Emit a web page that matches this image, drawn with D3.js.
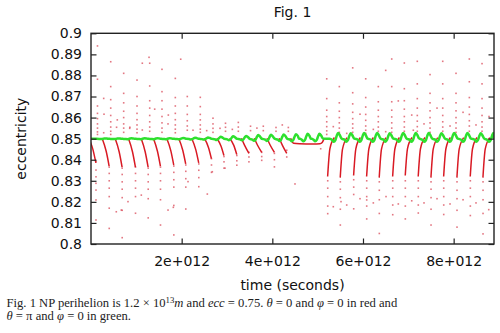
<!DOCTYPE html>
<html><head><meta charset="utf-8">
<script src="https://cdn.jsdelivr.net/npm/d3@7"></script>
<style>body{margin:0;background:#fff}svg{display:block}</style>
</head><body>
<svg id="c" width="500" height="333"></svg>
<script>
// ---------- data (time in units of 1e12 s) ----------
const xTicks = [2, 4, 6, 8];
const xTickLabels = ["2e+012", "4e+012", "6e+012", "8e+012"];
const yTicks = [0.8, 0.81, 0.82, 0.83, 0.84, 0.85, 0.86, 0.87, 0.88, 0.89, 0.9];
const yTickLabels = ["0.8", "0.81", "0.82", "0.83", "0.84", "0.85", "0.86", "0.87", "0.88", "0.89", "0.9"];

// red series (theta = 0, phi = 0): perihelion passages
const redCycleT = [0.143, 0.435, 0.721, 1.015, 1.295, 1.566, 1.860, 2.124, 2.411, 2.691, 2.967, 3.250,
  3.519, 3.801, 4.081, 4.353,
  5.200, 5.478, 5.773, 6.060, 6.338, 6.634, 6.912, 7.198, 7.479, 7.759, 8.052, 8.346, 8.626];
const redUpper = [
  [0.894, 0.8782, 0.8655, 0.862, 0.8595, 0.857, 0.855, 0.8532, 0.852],
  [0.8865, 0.8747, 0.8685, 0.8645, 0.861, 0.858, 0.8555, 0.8535, 0.852],
  [0.881, 0.8715, 0.867, 0.863, 0.86, 0.857, 0.855, 0.853],
  [0.8778, 0.870, 0.8655, 0.862, 0.859, 0.8565, 0.8545, 0.8528],
  [0.8858, 0.875, 0.868, 0.8645, 0.861, 0.858, 0.8555, 0.8535],
  [0.8829, 0.8723, 0.868, 0.864, 0.8605, 0.8575, 0.855, 0.853],
  [0.8786, 0.8695, 0.8655, 0.862, 0.859, 0.8565, 0.8545, 0.8528],
  [0.870, 0.8655, 0.8615, 0.8585, 0.856, 0.854],
  [0.8696, 0.8652, 0.8615, 0.8589, 0.8565, 0.8545, 0.853],
  [0.8597, 0.857, 0.8549, 0.853],
  [0.8573, 0.8554, 0.8535],
  [0.8577, 0.8555, 0.8535],
  [0.8559, 0.8538],
  [0.8559, 0.8538],
  [0.8553, 0.8535],
  [0.8553, 0.8535],
  [0.8784, 0.869, 0.8635, 0.8605, 0.858, 0.8557, 0.8537, 0.852],
  [0.8747, 0.867, 0.863, 0.86, 0.8575, 0.855, 0.853],
  [0.8836, 0.8718, 0.8665, 0.8625, 0.8595, 0.857, 0.855, 0.853],
  [0.8784, 0.8695, 0.865, 0.8615, 0.8587, 0.856, 0.854, 0.8525],
  [0.8747, 0.8675, 0.8635, 0.8605, 0.858, 0.8555, 0.8535],
  [0.8878, 0.8747, 0.8675, 0.8635, 0.8603, 0.8575, 0.855, 0.853],
  [0.8859, 0.8737, 0.868, 0.864, 0.8605, 0.858, 0.8555, 0.8535],
  [0.8867, 0.876, 0.869, 0.8645, 0.861, 0.8583, 0.8557, 0.8535],
  [0.8804, 0.8715, 0.867, 0.8632, 0.86, 0.8575, 0.855, 0.853],
  [0.8867, 0.876, 0.869, 0.8645, 0.861, 0.858, 0.8555, 0.8535],
  [0.881, 0.8715, 0.867, 0.8632, 0.86, 0.8575, 0.855, 0.853],
  [0.8878, 0.877, 0.8695, 0.865, 0.8615, 0.8585, 0.856, 0.8535],
  [0.8856, 0.876, 0.869, 0.8645, 0.861, 0.858, 0.8555, 0.8535]
];
const redLowerT = [0.110, 0.402, 0.688, 0.982, 1.262, 1.533, 1.827, 2.091, 2.378, 2.658, 2.934, 3.217,
  3.484, 3.766, 4.046, 4.318,
  5.222, 5.500, 5.795, 6.082, 6.360, 6.656, 6.934, 7.220, 7.501, 7.781, 8.074, 8.368, 8.648];
const redLower = [
  [0.8391, 0.8351, 0.8319, 0.8288, 0.8256, 0.8209, 0.8114],
  [0.8365, 0.8335, 0.830, 0.8265, 0.8225, 0.817, 0.8074],
  [0.836, 0.833, 0.8295, 0.826, 0.822, 0.816, 0.803],
  [0.8365, 0.8335, 0.830, 0.8265, 0.8225, 0.8146],
  [0.836, 0.833, 0.8295, 0.826, 0.8215, 0.8124],
  [0.8365, 0.8335, 0.830, 0.826, 0.821, 0.809],
  [0.837, 0.834, 0.8305, 0.827, 0.8183, 0.8043],
  [0.8375, 0.8345, 0.831, 0.827, 0.8166],
  [0.838, 0.835, 0.8315, 0.8272],
  [0.8405, 0.8375, 0.834],
  [0.8415, 0.839, 0.836],
  [0.842, 0.8395, 0.8374],
  [0.8435, 0.8413, 0.839],
  [0.8435, 0.8415, 0.8397],
  [0.843, 0.840, 0.8366],
  [0.8445, 0.8413],
  [0.830, 0.8265, 0.8225, 0.818, 0.8144],
  [0.8295, 0.826, 0.822, 0.8165, 0.809],
  [0.8305, 0.827, 0.8235, 0.8167],
  [0.830, 0.8265, 0.8225, 0.818, 0.8119],
  [0.8295, 0.8255, 0.821, 0.8145, 0.805],
  [0.830, 0.8265, 0.8225, 0.8185, 0.8139],
  [0.830, 0.8265, 0.8225, 0.818, 0.8119],
  [0.830, 0.8265, 0.8225, 0.8185, 0.8147],
  [0.8295, 0.826, 0.822, 0.8165, 0.809],
  [0.830, 0.8265, 0.8225, 0.8185, 0.814],
  [0.8295, 0.8255, 0.8215, 0.816, 0.808],
  [0.830, 0.8265, 0.8225, 0.818, 0.8135],
  [0.8295, 0.8255, 0.821, 0.8145, 0.8048]
];
// dense drifting stretches of the red series
const redTails = [
  [[-0.047, 0.8502], [0.043, 0.8448], [0.108, 0.8385]],
  [[0.245, 0.8502], [0.335, 0.844], [0.400, 0.837]],
  [[0.531, 0.8502], [0.621, 0.8438], [0.686, 0.8365]],
  [[0.825, 0.8502], [0.915, 0.8438], [0.980, 0.8365]],
  [[1.105, 0.8502], [1.195, 0.8438], [1.260, 0.8365]],
  [[1.376, 0.8502], [1.466, 0.844], [1.531, 0.837]],
  [[1.670, 0.8502], [1.760, 0.8443], [1.825, 0.8375]],
  [[1.934, 0.8502], [2.024, 0.8445], [2.089, 0.838]],
  [[2.221, 0.8502], [2.311, 0.8448], [2.376, 0.8385]],
  [[2.501, 0.8502], [2.591, 0.8458], [2.656, 0.8405]],
  [[2.777, 0.8502], [2.867, 0.8465], [2.932, 0.842]],
  [[3.060, 0.8502], [3.150, 0.8468], [3.215, 0.8425]],
  [[3.319, 0.8502], [3.389, 0.8468], [3.484, 0.843]],
  [[3.601, 0.8502], [3.671, 0.847], [3.766, 0.8435]],
  [[3.881, 0.8502], [3.951, 0.847], [4.046, 0.8435]],
  [[4.153, 0.8502], [4.223, 0.8468], [4.318, 0.843]],
  [[5.22, 0.832], [5.27, 0.8452], [5.37, 0.8505]],
  [[5.498, 0.8315], [5.548, 0.845], [5.648, 0.8505]],
  [[5.793, 0.8325], [5.843, 0.8453], [5.943, 0.8505]],
  [[6.08, 0.832], [6.13, 0.8452], [6.23, 0.8505]],
  [[6.358, 0.8315], [6.408, 0.845], [6.508, 0.8505]],
  [[6.654, 0.832], [6.704, 0.8452], [6.804, 0.8505]],
  [[6.932, 0.8325], [6.982, 0.8453], [7.082, 0.8505]],
  [[7.218, 0.832], [7.268, 0.8452], [7.368, 0.8505]],
  [[7.499, 0.8315], [7.549, 0.845], [7.649, 0.8505]],
  [[7.779, 0.832], [7.829, 0.8452], [7.929, 0.8505]],
  [[8.072, 0.8315], [8.122, 0.845], [8.222, 0.8505]],
  [[8.366, 0.832], [8.416, 0.8452], [8.516, 0.8505]],
  [[8.646, 0.8315], [8.696, 0.845], [8.796, 0.8505]]
];
const redFlat = [[4.405, 0.8502], [4.43, 0.8488], [4.47, 0.8478], [4.6, 0.8476], [4.9, 0.8475],
  [5.05, 0.8476], [5.1, 0.8482], [5.13, 0.8494], [5.145, 0.8502]];
const redStray = [
  [0.280, 0.8691], [0.280, 0.8528], [0.287, 0.8616], [0.580, 0.8589], [0.564, 0.8554], [0.854, 0.8549],
  [0.857, 0.8554], [1.132, 0.8858], [1.132, 0.8541], [1.280, 0.8886], [1.405, 0.864], [1.699, 0.857],
  [1.706, 0.8612], [1.979, 0.8877], [2.250, 0.854], [2.552, 0.8538], [2.846, 0.8549], [3.118, 0.8544],
  [4.220, 0.8565], [3.66, 0.8550],
  [0.558, 0.8153], [0.668, 0.8161], [0.816, 0.8201], [1.110, 0.8232], [1.699, 0.8161], [1.816, 0.8174],
  [2.140, 0.8296], [2.566, 0.8237], [2.676, 0.8343], [2.956, 0.836], [4.50, 0.8285], [5.067, 0.8452],
  [5.345, 0.8557], [5.641, 0.8525], [5.934, 0.8616], [6.228, 0.8544], [6.501, 0.8824], [6.501, 0.8533],
  [6.779, 0.8679], [7.110, 0.854], [7.075, 0.8612], [7.346, 0.857], [7.633, 0.8645], [7.92, 0.856],
  [8.207, 0.8625], [8.493, 0.8565], [8.78, 0.8605],
  [5.345, 0.8177], [5.515, 0.8201], [5.641, 0.8185], [5.934, 0.8215], [6.082, 0.8209], [6.228, 0.8195],
  [6.508, 0.8225], [6.779, 0.819], [7.075, 0.8205], [7.346, 0.8195], [7.633, 0.8215], [7.92, 0.819],
  [8.207, 0.821], [8.493, 0.8195], [8.774, 0.8163]
];

// green series (theta = pi, phi = 0)
const greenBase = 0.8499;
const greenT = [0.253, 0.545, 0.831, 1.125, 1.405, 1.676, 1.970, 2.234, 2.521, 2.801, 3.077, 3.360,
  3.629, 3.911, 4.191, 4.463, 4.72, 4.98,
  5.39, 5.668, 5.963, 6.25, 6.528, 6.824, 7.102, 7.388, 7.669, 7.949, 8.242, 8.536, 8.816];
const greenAmp = [0.08, 0.08, 0.1, 0.1, 0.12, 0.12, 0.15, 0.2, 0.25, 0.35, 0.45, 0.5,
  0.65, 0.7, 0.75, 0.8, 0.85, 0.85,
  1, 0.95, 1, 1, 0.95, 1, 1, 1, 0.95, 1, 1, 0.95, 1];
const greenShapeDt = [-0.13, -0.07, -0.035, 0, 0.03, 0.06, 0.10, 0.135];
const greenShapeDe = [0, -0.0005, -0.0014, -0.0006, 0.0014, 0.0028, 0.0017, 0.0002];
const tMax = 8.89;

// ---------- drawing ----------
const svg = d3.select("#c");
const L = 91, R = 494, T = 33.3, B = 244;
const x = d3.scaleLinear().domain([0, tMax]).range([L, R]);
const y = d3.scaleLinear().domain([0.8, 0.9]).range([B, T]);

svg.append("defs").append("clipPath").attr("id", "clip")
  .append("rect").attr("x", L).attr("y", T).attr("width", R - L).attr("height", B - T);
const plot = svg.append("g").attr("clip-path", "url(#clip)");

// red dots
const dots = [];
redCycleT.forEach((t, i) => {
  redUpper[i].forEach(e => dots.push([t, e]));
  redLower[i].forEach(e => dots.push([redLowerT[i], e]));
});
redStray.forEach(d => dots.push(d));
plot.append("g").selectAll("rect").data(dots).join("rect")
  .attr("x", d => x(d[0]) - 0.8).attr("y", d => y(d[1]) - 0.8)
  .attr("width", 1.6).attr("height", 1.6)
  .attr("fill", "#d94a58").attr("opacity", 0.75);

const line = d3.line().x(d => x(d[0])).y(d => y(d[1])).curve(d3.curveMonotoneX);
plot.append("g").selectAll("path").data(redTails.concat([redFlat])).join("path")
  .attr("d", line).attr("fill", "none").attr("stroke", "#d91a24").attr("stroke-width", 1.5);

// green line
const gpts = [[0, greenBase]];
greenT.forEach((g, i) => {
  greenShapeDt.forEach((dt, k) => gpts.push([g + dt, greenBase + greenAmp[i] * greenShapeDe[k]]));
});
gpts.push([tMax, greenBase]);
gpts.sort((a, b) => a[0] - b[0]);
plot.append("path").attr("d", line(gpts)).attr("fill", "none")
  .attr("stroke", "#2ee02e").attr("stroke-width", 2.5);

// frame
svg.append("rect").attr("x", L).attr("y", T).attr("width", R - L).attr("height", B - T)
  .attr("fill", "none").attr("stroke", "#222").attr("stroke-width", 1.4);

const font = "'DejaVu Sans', sans-serif";
// y ticks (left & mirrored right, inward)
const yAxisL = d3.axisLeft(y).tickValues(yTicks).tickSize(-5.5).tickPadding(9)
  .tickFormat((d, i) => yTickLabels[i]);
const gyl = svg.append("g").attr("transform", `translate(${L},0)`).call(yAxisL);
const yAxisR = d3.axisRight(y).tickValues(yTicks).tickSize(-5.5).tickFormat("");
const gyr = svg.append("g").attr("transform", `translate(${R},0)`).call(yAxisR);
// x ticks (bottom & mirrored top, inward)
const xAxisB = d3.axisBottom(x).tickValues(xTicks).tickSize(-5.5).tickPadding(12)
  .tickFormat((d, i) => xTickLabels[i]);
const gxb = svg.append("g").attr("transform", `translate(0,${B})`).call(xAxisB);
const xAxisT = d3.axisTop(x).tickValues(xTicks).tickSize(-5.5).tickFormat("");
const gxt = svg.append("g").attr("transform", `translate(0,${T})`).call(xAxisT);
[gyl, gyr, gxb, gxt].forEach(g => {
  g.select(".domain").remove();
  g.selectAll(".tick line").attr("stroke", "#222").attr("stroke-width", 1.2);
  g.selectAll("text").attr("font-family", font).attr("font-size", 14).attr("fill", "#111");
});

// titles
svg.append("text").attr("x", (L + R) / 2).attr("y", 16.5).attr("text-anchor", "middle")
  .attr("font-family", font).attr("font-size", 14).attr("fill", "#111").text("Fig. 1");
svg.append("text").attr("x", (L + R) / 2).attr("y", 289.5).attr("text-anchor", "middle")
  .attr("font-family", font).attr("font-size", 14).attr("fill", "#111").text("time (seconds)");
svg.append("text").attr("transform", `translate(25.5,${(T + B) / 2}) rotate(-90)`)
  .attr("text-anchor", "middle").attr("font-family", font).attr("font-size", 14)
  .attr("fill", "#111").text("eccentricity");

// caption
const serif = "'Liberation Serif', 'DejaVu Serif', serif";
const cap1 = svg.append("text").attr("x", 6.5).attr("y", 306.5).attr("font-family", serif)
  .attr("font-size", 11.5).attr("fill", "#222");
function part(t, s, it) { const ts = t.append("tspan").text(s); if (it) ts.attr("font-style", "italic"); return ts; }
part(cap1, "Fig. 1 NP perihelion is 1.2 \u00d7 10");
cap1.append("tspan").attr("dy", -4).attr("font-size", 8).text("13");
cap1.append("tspan").attr("dy", 4).attr("font-style", "italic").text("m");
part(cap1, " and ");
part(cap1, "ecc", true);
part(cap1, " = 0.75. ");
part(cap1, "\u03b8", true);
part(cap1, " = 0 and ");
part(cap1, "\u03c6", true);
part(cap1, " = 0 in red and");
const cap2 = svg.append("text").attr("x", 6.5).attr("y", 319.5).attr("font-family", serif)
  .attr("font-size", 11.5).attr("fill", "#222");
part(cap2, "\u03b8", true);
part(cap2, " = \u03c0 and ");
part(cap2, "\u03c6", true);
part(cap2, " = 0 in green.");
// fit caption widths to the reference's line lengths
const w1 = cap1.node().getComputedTextLength();
const s = 391 / w1;
cap1.attr("font-size", 11.5 * s); cap2.attr("font-size", 11.5 * s);
cap1.selectAll("tspan").filter(function () { return this.textContent === "13"; }).attr("font-size", 8 * s);
</script>
</body></html>
